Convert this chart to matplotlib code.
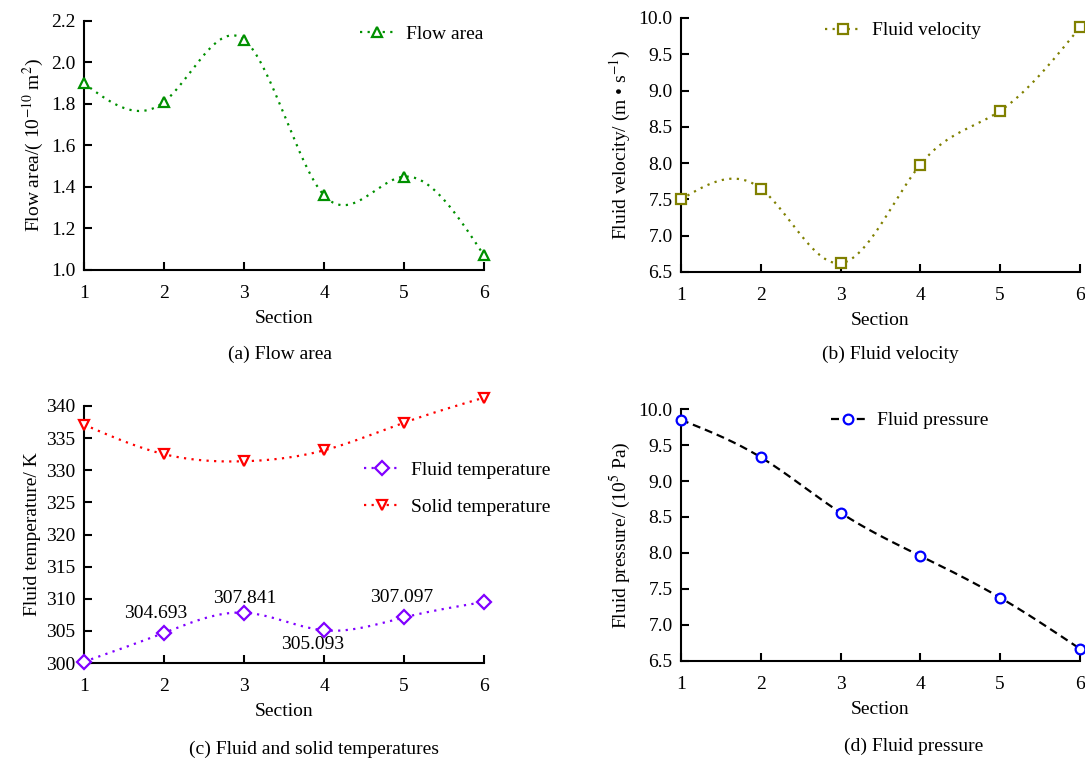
import numpy as np
import matplotlib
matplotlib.use('Agg')
import matplotlib.pyplot as plt

plt.rcParams['font.family'] = ['Liberation Serif', 'DejaVu Serif']
plt.rcParams['mathtext.fontset'] = 'stix'
plt.rcParams['font.size'] = 14

section = [1, 2, 3, 4, 5, 6]
flow_area = [1.90, 1.81, 2.11, 1.36, 1.45, 1.07]
fluid_velocity = [7.50, 7.65, 6.62, 7.98, 8.72, 9.87]
fluid_temp = [300.2, 304.693, 307.841, 305.093, 307.097, 309.5]
solid_temp = [337.1, 332.5, 331.4, 333.1, 337.4, 341.3]
fluid_pressure = [9.85, 9.33, 8.56, 7.96, 7.38, 6.67]
temp_labels = {2: '304.693', 3: '307.841', 4: '305.093', 5: '307.097'}
FS = 14
DOT = (0, (1, 2.4))
DASH = (0, (3.6, 2.2))


def spline(x, y, n=300):
    # natural cubic spline through the points
    x = np.asarray(x, float)
    y = np.asarray(y, float)
    k = len(x)
    h = np.diff(x)
    A = np.zeros((k, k))
    b = np.zeros(k)
    A[0, 0] = A[-1, -1] = 1
    for i in range(1, k - 1):
        A[i, i - 1] = h[i - 1]
        A[i, i] = 2 * (h[i - 1] + h[i])
        A[i, i + 1] = h[i]
        b[i] = 6 * ((y[i + 1] - y[i]) / h[i] - (y[i] - y[i - 1]) / h[i - 1])
    m = np.linalg.solve(A, b)
    xs = np.linspace(x[0], x[-1], n)
    idx = np.clip(np.searchsorted(x, xs) - 1, 0, k - 2)
    x0, x1 = x[idx], x[idx + 1]
    hh = x1 - x0
    t0, t1 = x1 - xs, xs - x0
    ys = (m[idx] * t0 ** 3 + m[idx + 1] * t1 ** 3) / (6 * hh) \
        + (y[idx] / hh - m[idx] * hh / 6) * t0 \
        + (y[idx + 1] / hh - m[idx + 1] * hh / 6) * t1
    return xs, ys


def series(ax, y, color, marker, ls, label, lcolor=None):
    xs, ys = spline(section, y)
    ax.plot(xs, ys, ls=ls, color=lcolor or color, lw=1.6, clip_on=False)
    ax.plot(section, y, ls='none', marker=marker, mfc='white', mec=color,
            mew=1.6, ms=7, clip_on=False, zorder=5)
    # legend proxy: line with marker in the middle
    ax.plot([], [], ls=ls, color=lcolor or color, lw=1.6, marker=marker,
            mfc='white', mec=color, mew=1.6, ms=7, label=label)


def style(ax, ylim, yticks, fmt):
    for s in ['top', 'right']:
        ax.spines[s].set_visible(False)
    for s in ['left', 'bottom']:
        ax.spines[s].set_linewidth(1.5)
    ax.set_xlim(1, 6)
    ax.set_ylim(*ylim)
    ax.set_xticks(section)
    ax.set_yticks(yticks)
    ax.set_yticklabels([fmt.format(v) for v in yticks])
    ax.tick_params(direction='in', length=5.5, width=1.5, labelsize=FS)
    ax.tick_params(axis='x', pad=10.5)
    ax.tick_params(axis='y', pad=6)
    ax.set_xlabel('Section', fontsize=FS, labelpad=6)


def legend(ax, anchor, ls=0.5):
    ax.legend(loc='upper left', bbox_to_anchor=anchor, frameon=False,
              handlelength=1.8, handletextpad=0.6, labelspacing=ls,
              fontsize=FS, borderaxespad=0.2)


fig = plt.figure(figsize=(10.85, 7.58), dpi=100)
ax_a = fig.add_axes([0.0774, 0.6438, 0.3687, 0.3285])
ax_b = fig.add_axes([0.6276, 0.6412, 0.3677, 0.3351])
ax_c = fig.add_axes([0.0774, 0.1253, 0.3687, 0.3391])
ax_d = fig.add_axes([0.6276, 0.1280, 0.3677, 0.3324])

# (a) flow area
series(ax_a, flow_area, '#009000', '^', DOT, 'Flow area')
style(ax_a, (1.0, 2.2), np.arange(1.0, 2.21, 0.2), '{:.1f}')
ax_a.set_ylabel('Flow area/( 10$^{-10}$ m$^2$)', fontsize=FS, labelpad=4)
legend(ax_a, (0.66, 1.028))
ax_a.text(0.49, -0.34, '(a) Flow area', transform=ax_a.transAxes,
          ha='center', va='center', fontsize=FS)

# (b) fluid velocity
series(ax_b, fluid_velocity, '#808000', 's', DOT, 'Fluid velocity')
style(ax_b, (6.5, 10.0), np.arange(6.5, 10.01, 0.5), '{:.1f}')
ax_b.set_ylabel('Fluid velocity/ (m \u2022 s$^{-1}$)', fontsize=FS, labelpad=4)
legend(ax_b, (0.333, 1.031))
ax_b.text(0.524, -0.323, '(b) Fluid velocity', transform=ax_b.transAxes,
          ha='center', va='center', fontsize=FS)

# (c) fluid and solid temperatures
series(ax_c, fluid_temp, '#8000ff', 'D', DOT, 'Fluid temperature')
series(ax_c, solid_temp, '#ff0000', 'v', DOT, 'Solid temperature')
offsets = {2: (-6, 14), 3: (0.7, 10), 4: (-8, -10), 5: (-1.4, 14.5)}
for sx, txt in temp_labels.items():
    ax_c.annotate(txt, (sx, fluid_temp[sx - 1]), xytext=offsets[sx],
                  textcoords='offset points', ha='center', va='center',
                  fontsize=FS)
style(ax_c, (300, 340), np.arange(300, 341, 5), '{:.0f}')
ax_c.set_ylabel('Fluid temperature/ K', fontsize=FS, labelpad=4)
legend(ax_c, (0.672, 0.83), ls=1.0)
ax_c.text(0.575, -0.335, '(c) Fluid and solid temperatures', transform=ax_c.transAxes,
          ha='center', va='center', fontsize=FS)

# (d) fluid pressure
series(ax_d, fluid_pressure, '#0000ff', 'o', DASH, 'Fluid pressure',
       lcolor='black')
style(ax_d, (6.5, 10.0), np.arange(6.5, 10.01, 0.5), '{:.1f}')
ax_d.set_ylabel('Fluid pressure/ (10$^5$ Pa)', fontsize=FS, labelpad=4)
legend(ax_d, (0.346, 1.035))
ax_d.text(0.584, -0.34, '(d) Fluid pressure', transform=ax_d.transAxes,
          ha='center', va='center', fontsize=FS)

fig.savefig('out.png', dpi=100)
